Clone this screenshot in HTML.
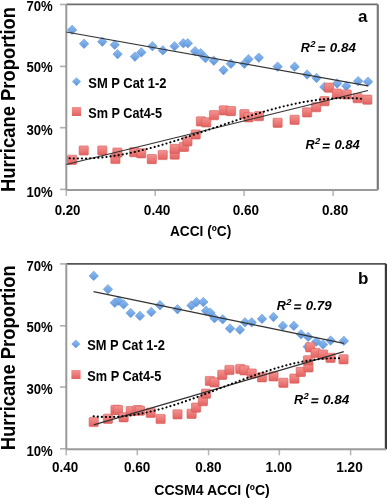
<!DOCTYPE html>
<html><head><meta charset="utf-8"><style>
html,body{margin:0;padding:0;background:#fff;}
svg{display:block;}
text{font-family:"Liberation Sans", sans-serif;font-weight:bold;fill:#000;}
.dm{fill:url(#gb);stroke:#5a8ed4;stroke-width:0.5;}
.sq{fill:url(#gr);stroke:#d65a58;stroke-width:0.6;}
</style></head><body>
<svg width="387" height="500" viewBox="0 0 387 500">
<defs>
<linearGradient id="gb" x1="0" y1="0" x2="0" y2="1"><stop offset="0" stop-color="#8cbcf0"/><stop offset="0.5" stop-color="#78aae6"/><stop offset="1" stop-color="#5e92d8"/></linearGradient>
<linearGradient id="gr" x1="0" y1="0" x2="0" y2="1"><stop offset="0" stop-color="#f29492"/><stop offset="0.5" stop-color="#ec7a78"/><stop offset="1" stop-color="#e06260"/></linearGradient>
<filter id="txt" x="-2%" y="-2%" width="104%" height="104%"><feGaussianBlur stdDeviation="0.12"/></filter>
<filter id="ln" x="-5%" y="-20%" width="110%" height="140%"><feGaussianBlur stdDeviation="0.25"/></filter>
<filter id="soft" x="-5%" y="-5%" width="110%" height="110%"><feGaussianBlur stdDeviation="0.35"/></filter>
</defs>
<rect width="387" height="500" fill="#fff"/>
<line x1="66.3" y1="4.4" x2="377.8" y2="4.4" stroke="#6e6e6e" stroke-width="1.8"/>
<line x1="377.8" y1="4.4" x2="377.8" y2="189.9" stroke="#7a7a7a" stroke-width="2.2"/>
<line x1="60" y1="4.5" x2="66.3" y2="4.5" stroke="#b0b0b0" stroke-width="1.6"/>
<line x1="60" y1="66.4" x2="66.3" y2="66.4" stroke="#b0b0b0" stroke-width="1.6"/>
<line x1="60" y1="127.7" x2="66.3" y2="127.7" stroke="#b0b0b0" stroke-width="1.6"/>
<line x1="60" y1="189.4" x2="66.3" y2="189.4" stroke="#b0b0b0" stroke-width="1.6"/>
<line x1="66.3" y1="189.9" x2="66.3" y2="195.9" stroke="#b8b8b8" stroke-width="1.6"/>
<line x1="155.2" y1="189.9" x2="155.2" y2="195.9" stroke="#b8b8b8" stroke-width="1.6"/>
<line x1="244.1" y1="189.9" x2="244.1" y2="195.9" stroke="#b8b8b8" stroke-width="1.6"/>
<line x1="333.1" y1="189.9" x2="333.1" y2="195.9" stroke="#b8b8b8" stroke-width="1.6"/>
<line x1="66.3" y1="4.4" x2="66.3" y2="189.9" stroke="#9a9a9a" stroke-width="2"/>
<line x1="66.3" y1="189.9" x2="377.8" y2="189.9" stroke="#9a9a9a" stroke-width="2"/>
<g filter="url(#soft)">
<path class="dm" d="M72.1,25.1 L76.8,29.9 L72.1,34.6 L67.3,29.9Z"/>
<path class="dm" d="M84.1,39.0 L88.8,43.8 L84.1,48.5 L79.3,43.8Z"/>
<path class="dm" d="M102.3,36.9 L107.0,41.7 L102.3,46.4 L97.5,41.7Z"/>
<path class="dm" d="M114.7,40.0 L119.5,44.8 L114.7,49.5 L110.0,44.8Z"/>
<path class="dm" d="M117.6,49.4 L122.3,54.1 L117.6,58.9 L112.8,54.1Z"/>
<path class="dm" d="M134.9,51.9 L139.7,56.6 L134.9,61.4 L130.2,56.6Z"/>
<path class="dm" d="M141.3,47.6 L146.1,52.4 L141.3,57.1 L136.6,52.4Z"/>
<path class="dm" d="M152.4,41.4 L157.2,46.2 L152.4,50.9 L147.7,46.2Z"/>
<path class="dm" d="M162.8,45.6 L167.6,50.4 L162.8,55.1 L158.1,50.4Z"/>
<path class="dm" d="M174.5,41.4 L179.2,46.2 L174.5,50.9 L169.8,46.2Z"/>
<path class="dm" d="M183.3,38.5 L188.1,43.3 L183.3,48.0 L178.6,43.3Z"/>
<path class="dm" d="M187.8,38.5 L192.6,43.3 L187.8,48.0 L183.1,43.3Z"/>
<path class="dm" d="M195.1,46.4 L199.8,51.2 L195.1,55.9 L190.3,51.2Z"/>
<path class="dm" d="M200.7,48.4 L205.4,53.2 L200.7,57.9 L195.9,53.2Z"/>
<path class="dm" d="M205.4,53.2 L210.2,58.0 L205.4,62.8 L200.7,58.0Z"/>
<path class="dm" d="M213.8,55.9 L218.6,60.7 L213.8,65.4 L209.1,60.7Z"/>
<path class="dm" d="M223.5,65.4 L228.2,70.1 L223.5,74.9 L218.8,70.1Z"/>
<path class="dm" d="M230.9,59.0 L235.7,63.8 L230.9,68.5 L226.2,63.8Z"/>
<path class="dm" d="M244.3,59.0 L249.1,63.8 L244.3,68.5 L239.6,63.8Z"/>
<path class="dm" d="M248.5,54.4 L253.2,59.2 L248.5,63.9 L243.8,59.2Z"/>
<path class="dm" d="M258.8,52.9 L263.6,57.6 L258.8,62.4 L254.1,57.6Z"/>
<path class="dm" d="M277.6,61.9 L282.4,66.6 L277.6,71.4 L272.9,66.6Z"/>
<path class="dm" d="M294.6,62.0 L299.4,66.7 L294.6,71.5 L289.9,66.7Z"/>
<path class="dm" d="M307.1,69.8 L311.9,74.5 L307.1,79.2 L302.4,74.5Z"/>
<path class="dm" d="M316.5,73.2 L321.2,78.0 L316.5,82.8 L311.8,78.0Z"/>
<path class="dm" d="M324.3,82.2 L329.1,86.9 L324.3,91.7 L319.6,86.9Z"/>
<path class="dm" d="M337.2,78.7 L341.9,83.4 L337.2,88.2 L332.4,83.4Z"/>
<path class="dm" d="M346.3,81.4 L351.1,86.1 L346.3,90.9 L341.6,86.1Z"/>
<path class="dm" d="M358.2,76.4 L362.9,81.1 L358.2,85.9 L353.4,81.1Z"/>
<path class="dm" d="M368.0,77.0 L372.8,81.7 L368.0,86.5 L363.2,81.7Z"/>
<rect class="sq" x="67.5" y="155.2" width="9.2" height="9.2" rx="0.8"/>
<rect class="sq" x="79.1" y="145.9" width="9.2" height="9.2" rx="0.8"/>
<rect class="sq" x="97.7" y="145.9" width="9.2" height="9.2" rx="0.8"/>
<rect class="sq" x="110.8" y="154.4" width="9.2" height="9.2" rx="0.8"/>
<rect class="sq" x="112.8" y="148.0" width="9.2" height="9.2" rx="0.8"/>
<rect class="sq" x="129.6" y="147.6" width="9.2" height="9.2" rx="0.8"/>
<rect class="sq" x="136.6" y="148.7" width="9.2" height="9.2" rx="0.8"/>
<rect class="sq" x="147.2" y="154.5" width="9.2" height="9.2" rx="0.8"/>
<rect class="sq" x="158.1" y="150.4" width="9.2" height="9.2" rx="0.8"/>
<rect class="sq" x="170.1" y="150.0" width="9.2" height="9.2" rx="0.8"/>
<rect class="sq" x="170.1" y="144.3" width="9.2" height="9.2" rx="0.8"/>
<rect class="sq" x="179.4" y="142.3" width="9.2" height="9.2" rx="0.8"/>
<rect class="sq" x="182.8" y="136.8" width="9.2" height="9.2" rx="0.8"/>
<rect class="sq" x="191.1" y="129.9" width="9.2" height="9.2" rx="0.8"/>
<rect class="sq" x="196.3" y="116.8" width="9.2" height="9.2" rx="0.8"/>
<rect class="sq" x="201.6" y="117.8" width="9.2" height="9.2" rx="0.8"/>
<rect class="sq" x="209.4" y="110.6" width="9.2" height="9.2" rx="0.8"/>
<rect class="sq" x="219.2" y="105.8" width="9.2" height="9.2" rx="0.8"/>
<rect class="sq" x="226.4" y="106.5" width="9.2" height="9.2" rx="0.8"/>
<rect class="sq" x="239.8" y="109.6" width="9.2" height="9.2" rx="0.8"/>
<rect class="sq" x="244.0" y="112.7" width="9.2" height="9.2" rx="0.8"/>
<rect class="sq" x="254.3" y="111.6" width="9.2" height="9.2" rx="0.8"/>
<rect class="sq" x="273.0" y="118.2" width="9.2" height="9.2" rx="0.8"/>
<rect class="sq" x="290.0" y="115.2" width="9.2" height="9.2" rx="0.8"/>
<rect class="sq" x="302.5" y="107.8" width="9.2" height="9.2" rx="0.8"/>
<rect class="sq" x="311.6" y="102.6" width="9.2" height="9.2" rx="0.8"/>
<rect class="sq" x="319.9" y="96.6" width="9.2" height="9.2" rx="0.8"/>
<rect class="sq" x="324.5" y="83.1" width="9.2" height="9.2" rx="0.8"/>
<rect class="sq" x="332.3" y="89.0" width="9.2" height="9.2" rx="0.8"/>
<rect class="sq" x="342.1" y="89.9" width="9.2" height="9.2" rx="0.8"/>
<rect class="sq" x="353.0" y="93.6" width="9.2" height="9.2" rx="0.8"/>
<rect class="sq" x="362.7" y="95.1" width="9.2" height="9.2" rx="0.8"/>
</g>
<g filter="url(#ln)">
<line x1="66.3" y1="32.0" x2="368" y2="85.9" stroke="#333" stroke-width="1.25"/>
<line x1="66.3" y1="164.5" x2="368" y2="90.5" stroke="#333" stroke-width="1.25"/>
<path d="M66.30,158.11 L71.35,158.41 L76.39,158.58 L81.44,158.60 L86.48,158.50 L91.53,158.28 L96.57,157.93 L101.62,157.47 L106.67,156.90 L111.71,156.22 L116.76,155.45 L121.80,154.57 L126.85,153.61 L131.89,152.57 L136.94,151.44 L141.99,150.24 L147.03,148.97 L152.08,147.64 L157.12,146.24 L162.17,144.79 L167.22,143.29 L172.26,141.74 L177.31,140.16 L182.35,138.54 L187.40,136.89 L192.44,135.21 L197.49,133.52 L202.54,131.80 L207.58,130.08 L212.63,128.36 L217.67,126.63 L222.72,124.91 L227.76,123.20 L232.81,121.50 L237.86,119.83 L242.90,118.17 L247.95,116.55 L252.99,114.96 L258.04,113.42 L263.08,111.92 L268.13,110.46 L273.18,109.06 L278.22,107.73 L283.27,106.45 L288.31,105.25 L293.36,104.12 L298.41,103.07 L303.45,102.11 L308.50,101.23 L313.54,100.45 L318.59,99.77 L323.63,99.20 L328.68,98.73 L333.73,98.38 L338.77,98.15 L343.82,98.04 L348.86,98.06 L353.91,98.22 L358.95,98.52 L364.00,98.96" fill="none" stroke="#000" stroke-width="2.05" stroke-linecap="round" stroke-dasharray="0.2 3.9" stroke-dashoffset="0.8"/>
</g>
<path d="M76.5,77.3 L81.0,81.6 L76.5,85.89999999999999 L72.0,81.6Z" fill="url(#gb)"/>
<rect x="71.9" y="106.9" width="9.2" height="9.2" fill="url(#gr)" rx="0.6"/>
<line x1="66.3" y1="263.79999999999995" x2="385.9" y2="263.79999999999995" stroke="#555555" stroke-width="1.8"/>
<line x1="385.9" y1="263.79999999999995" x2="385.9" y2="449.29999999999995" stroke="#3a3a3a" stroke-width="2.2"/>
<line x1="60" y1="263.9" x2="66.3" y2="263.9" stroke="#b0b0b0" stroke-width="1.6"/>
<line x1="60" y1="325.79999999999995" x2="66.3" y2="325.79999999999995" stroke="#b0b0b0" stroke-width="1.6"/>
<line x1="60" y1="387.09999999999997" x2="66.3" y2="387.09999999999997" stroke="#b0b0b0" stroke-width="1.6"/>
<line x1="60" y1="448.79999999999995" x2="66.3" y2="448.79999999999995" stroke="#b0b0b0" stroke-width="1.6"/>
<line x1="66.2" y1="449.29999999999995" x2="66.2" y2="455.29999999999995" stroke="#b8b8b8" stroke-width="1.6"/>
<line x1="137.3" y1="449.29999999999995" x2="137.3" y2="455.29999999999995" stroke="#b8b8b8" stroke-width="1.6"/>
<line x1="208.6" y1="449.29999999999995" x2="208.6" y2="455.29999999999995" stroke="#b8b8b8" stroke-width="1.6"/>
<line x1="279.3" y1="449.29999999999995" x2="279.3" y2="455.29999999999995" stroke="#b8b8b8" stroke-width="1.6"/>
<line x1="350.6" y1="449.29999999999995" x2="350.6" y2="455.29999999999995" stroke="#b8b8b8" stroke-width="1.6"/>
<line x1="66.3" y1="263.79999999999995" x2="66.3" y2="449.29999999999995" stroke="#9a9a9a" stroke-width="2"/>
<line x1="66.3" y1="449.29999999999995" x2="385.9" y2="449.29999999999995" stroke="#9a9a9a" stroke-width="2"/>
<g filter="url(#soft)">
<path class="dm" d="M93.7,271.1 L98.5,275.9 L93.7,280.6 L89.0,275.9Z"/>
<path class="dm" d="M107.9,284.5 L112.7,289.3 L107.9,294.0 L103.2,289.3Z"/>
<path class="dm" d="M114.8,298.0 L119.5,302.8 L114.8,307.5 L110.0,302.8Z"/>
<path class="dm" d="M118.5,295.9 L123.2,300.7 L118.5,305.4 L113.8,300.7Z"/>
<path class="dm" d="M123.6,299.6 L128.3,304.4 L123.6,309.1 L118.8,304.4Z"/>
<path class="dm" d="M130.7,308.3 L135.4,313.1 L130.7,317.8 L125.9,313.1Z"/>
<path class="dm" d="M139.9,311.1 L144.7,315.9 L139.9,320.6 L135.2,315.9Z"/>
<path class="dm" d="M151.3,307.2 L156.1,312.0 L151.3,316.8 L146.6,312.0Z"/>
<path class="dm" d="M160.0,300.4 L164.8,305.2 L160.0,309.9 L155.2,305.2Z"/>
<path class="dm" d="M177.5,304.5 L182.2,309.3 L177.5,314.0 L172.8,309.3Z"/>
<path class="dm" d="M191.4,300.8 L196.2,305.6 L191.4,310.3 L186.7,305.6Z"/>
<path class="dm" d="M196.5,297.3 L201.2,302.1 L196.5,306.8 L191.8,302.1Z"/>
<path class="dm" d="M203.3,297.3 L208.1,302.1 L203.3,306.8 L198.6,302.1Z"/>
<path class="dm" d="M206.1,306.0 L210.8,310.8 L206.1,315.5 L201.3,310.8Z"/>
<path class="dm" d="M210.3,307.9 L215.1,312.7 L210.3,317.4 L205.6,312.7Z"/>
<path class="dm" d="M214.5,313.5 L219.2,318.3 L214.5,323.0 L209.8,318.3Z"/>
<path class="dm" d="M222.7,314.5 L227.4,319.3 L222.7,324.0 L217.9,319.3Z"/>
<path class="dm" d="M230.0,323.8 L234.8,328.6 L230.0,333.3 L225.2,328.6Z"/>
<path class="dm" d="M239.9,324.9 L244.7,329.7 L239.9,334.4 L235.2,329.7Z"/>
<path class="dm" d="M245.0,317.6 L249.8,322.4 L245.0,327.1 L240.2,322.4Z"/>
<path class="dm" d="M251.7,317.6 L256.4,322.4 L251.7,327.1 L246.9,322.4Z"/>
<path class="dm" d="M262.0,314.1 L266.8,318.9 L262.0,323.6 L257.2,318.9Z"/>
<path class="dm" d="M273.5,312.2 L278.2,317.0 L273.5,321.8 L268.8,317.0Z"/>
<path class="dm" d="M282.8,321.1 L287.6,325.9 L282.8,330.6 L278.1,325.9Z"/>
<path class="dm" d="M293.8,321.1 L298.6,325.9 L293.8,330.6 L289.1,325.9Z"/>
<path class="dm" d="M301.0,329.6 L305.8,334.4 L301.0,339.1 L296.2,334.4Z"/>
<path class="dm" d="M308.2,332.1 L312.9,336.9 L308.2,341.6 L303.4,336.9Z"/>
<path class="dm" d="M307.6,341.9 L312.4,346.7 L307.6,351.4 L302.9,346.7Z"/>
<path class="dm" d="M316.4,336.8 L321.1,341.6 L316.4,346.3 L311.6,341.6Z"/>
<path class="dm" d="M323.0,339.8 L327.8,344.6 L323.0,349.3 L318.2,344.6Z"/>
<path class="dm" d="M330.6,335.8 L335.4,340.5 L330.6,345.2 L325.9,340.5Z"/>
<path class="dm" d="M343.9,336.1 L348.6,340.9 L343.9,345.6 L339.1,340.9Z"/>
<rect class="sq" x="89.1" y="417.4" width="9.2" height="9.2" rx="0.8"/>
<rect class="sq" x="103.3" y="414.2" width="9.2" height="9.2" rx="0.8"/>
<rect class="sq" x="110.9" y="405.3" width="9.2" height="9.2" rx="0.8"/>
<rect class="sq" x="113.4" y="405.3" width="9.2" height="9.2" rx="0.8"/>
<rect class="sq" x="119.0" y="412.7" width="9.2" height="9.2" rx="0.8"/>
<rect class="sq" x="126.1" y="406.5" width="9.2" height="9.2" rx="0.8"/>
<rect class="sq" x="132.9" y="405.6" width="9.2" height="9.2" rx="0.8"/>
<rect class="sq" x="135.3" y="406.1" width="9.2" height="9.2" rx="0.8"/>
<rect class="sq" x="146.1" y="408.2" width="9.2" height="9.2" rx="0.8"/>
<rect class="sq" x="156.0" y="414.4" width="9.2" height="9.2" rx="0.8"/>
<rect class="sq" x="172.9" y="409.8" width="9.2" height="9.2" rx="0.8"/>
<rect class="sq" x="187.0" y="409.2" width="9.2" height="9.2" rx="0.8"/>
<rect class="sq" x="191.5" y="403.0" width="9.2" height="9.2" rx="0.8"/>
<rect class="sq" x="198.3" y="396.6" width="9.2" height="9.2" rx="0.8"/>
<rect class="sq" x="201.4" y="389.1" width="9.2" height="9.2" rx="0.8"/>
<rect class="sq" x="205.3" y="376.4" width="9.2" height="9.2" rx="0.8"/>
<rect class="sq" x="209.9" y="377.8" width="9.2" height="9.2" rx="0.8"/>
<rect class="sq" x="217.7" y="370.2" width="9.2" height="9.2" rx="0.8"/>
<rect class="sq" x="224.9" y="365.4" width="9.2" height="9.2" rx="0.8"/>
<rect class="sq" x="235.7" y="364.4" width="9.2" height="9.2" rx="0.8"/>
<rect class="sq" x="239.8" y="365.8" width="9.2" height="9.2" rx="0.8"/>
<rect class="sq" x="247.1" y="368.9" width="9.2" height="9.2" rx="0.8"/>
<rect class="sq" x="257.4" y="372.7" width="9.2" height="9.2" rx="0.8"/>
<rect class="sq" x="268.9" y="371.8" width="9.2" height="9.2" rx="0.8"/>
<rect class="sq" x="278.8" y="378.2" width="9.2" height="9.2" rx="0.8"/>
<rect class="sq" x="289.8" y="374.0" width="9.2" height="9.2" rx="0.8"/>
<rect class="sq" x="296.2" y="367.3" width="9.2" height="9.2" rx="0.8"/>
<rect class="sq" x="303.8" y="362.8" width="9.2" height="9.2" rx="0.8"/>
<rect class="sq" x="303.4" y="355.7" width="9.2" height="9.2" rx="0.8"/>
<rect class="sq" x="305.6" y="342.7" width="9.2" height="9.2" rx="0.8"/>
<rect class="sq" x="311.0" y="348.4" width="9.2" height="9.2" rx="0.8"/>
<rect class="sq" x="318.4" y="350.0" width="9.2" height="9.2" rx="0.8"/>
<rect class="sq" x="325.9" y="353.2" width="9.2" height="9.2" rx="0.8"/>
<rect class="sq" x="338.9" y="354.7" width="9.2" height="9.2" rx="0.8"/>
</g>
<g filter="url(#ln)">
<line x1="93.5" y1="291.6" x2="343.8" y2="343.4" stroke="#333" stroke-width="1.25"/>
<line x1="93.7" y1="424.8" x2="343.8" y2="351.7" stroke="#333" stroke-width="1.25"/>
<path d="M93.10,416.22 L97.30,416.61 L101.50,416.86 L105.71,416.99 L109.91,416.99 L114.11,416.88 L118.31,416.65 L122.51,416.31 L126.71,415.87 L130.92,415.33 L135.12,414.70 L139.32,413.97 L143.52,413.15 L147.72,412.26 L151.92,411.28 L156.13,410.23 L160.33,409.12 L164.53,407.93 L168.73,406.69 L172.93,405.39 L177.13,404.04 L181.34,402.64 L185.54,401.20 L189.74,399.72 L193.94,398.21 L198.14,396.67 L202.34,395.10 L206.55,393.51 L210.75,391.91 L214.95,390.29 L219.15,388.67 L223.35,387.04 L227.55,385.42 L231.76,383.80 L235.96,382.19 L240.16,380.60 L244.36,379.02 L248.56,377.47 L252.76,375.95 L256.97,374.46 L261.17,373.01 L265.37,371.59 L269.57,370.23 L273.77,368.91 L277.97,367.65 L282.18,366.45 L286.38,365.31 L290.58,364.23 L294.78,363.23 L298.98,362.31 L303.18,361.47 L307.39,360.71 L311.59,360.04 L315.79,359.47 L319.99,359.00 L324.19,358.62 L328.39,358.36 L332.60,358.21 L336.80,358.17 L341.00,358.26" fill="none" stroke="#000" stroke-width="2.05" stroke-linecap="round" stroke-dasharray="0.2 3.9" stroke-dashoffset="-0.5"/>
</g>
<path d="M75.8,339.59999999999997 L80.3,343.9 L75.8,348.2 L71.3,343.9Z" fill="url(#gb)"/>
<rect x="71.4" y="369.9" width="9.2" height="9.2" fill="url(#gr)" rx="0.6"/>
<g filter="url(#txt)">
<text x="26.5" y="11.0" font-size="14.3" text-anchor="start" textLength="26.3" lengthAdjust="spacingAndGlyphs" >70%</text>
<text x="26.5" y="72.4" font-size="14.3" text-anchor="start" textLength="26.3" lengthAdjust="spacingAndGlyphs" >50%</text>
<text x="26.5" y="135.2" font-size="14.3" text-anchor="start" textLength="26.3" lengthAdjust="spacingAndGlyphs" >30%</text>
<text x="26.5" y="196.6" font-size="14.3" text-anchor="start" textLength="26.3" lengthAdjust="spacingAndGlyphs" >10%</text>
<text x="54.7" y="214.5" font-size="14.3" text-anchor="start" textLength="25.8" lengthAdjust="spacingAndGlyphs" >0.20</text>
<text x="143.8" y="215.0" font-size="14.3" text-anchor="start" textLength="26.6" lengthAdjust="spacingAndGlyphs" >0.40</text>
<text x="232.8" y="215.0" font-size="14.3" text-anchor="start" textLength="26.3" lengthAdjust="spacingAndGlyphs" >0.60</text>
<text x="322.0" y="215.0" font-size="14.3" text-anchor="start" textLength="26.3" lengthAdjust="spacingAndGlyphs" >0.80</text>
<text x="300.8" y="51.5" font-size="12.6" font-style="italic">R</text>
<text x="310.3" y="47.1" font-size="9.4" font-style="italic">2</text>
<path d="M318.6,46.2 h6.8 l-0.25,1.5 h-6.8z M318.1,49.7 h6.8 l-0.25,1.5 h-6.8z" fill="#000"/>
<text x="329.8" y="51.5" font-size="12.8" font-style="italic" textLength="26.1" lengthAdjust="spacingAndGlyphs">0.84</text>
<text x="305.40000000000003" y="148.7" font-size="12.6" font-style="italic">R</text>
<text x="314.90000000000003" y="144.29999999999998" font-size="9.4" font-style="italic">2</text>
<path d="M323.2,143.4 h6.8 l-0.25,1.5 h-6.8z M322.7,146.9 h6.8 l-0.25,1.5 h-6.8z" fill="#000"/>
<text x="334.40000000000003" y="148.7" font-size="12.8" font-style="italic" textLength="25.4" lengthAdjust="spacingAndGlyphs">0.84</text>
<text x="357.9" y="21.7" font-size="17" text-anchor="start" >a</text>
<text x="88.3" y="87.7" font-size="14.2" text-anchor="start" textLength="78.2" lengthAdjust="spacingAndGlyphs" >SM P Cat 1-2</text>
<text x="88.3" y="118.0" font-size="14.2" text-anchor="start" textLength="73.8" lengthAdjust="spacingAndGlyphs" >Sm P Cat4-5</text>
<text x="169.9" y="236.1" font-size="14.5" text-anchor="start" textLength="61.4" lengthAdjust="spacingAndGlyphs" >ACCI (ºC)</text>
<text transform="translate(15.2,192) rotate(-90)" x="0" y="0" font-size="19.5" textLength="185" lengthAdjust="spacingAndGlyphs">Hurricane Proportion</text>
<text x="26.5" y="270.5" font-size="14.3" text-anchor="start" textLength="26.3" lengthAdjust="spacingAndGlyphs" >70%</text>
<text x="26.5" y="332.2" font-size="14.3" text-anchor="start" textLength="26.3" lengthAdjust="spacingAndGlyphs" >50%</text>
<text x="26.5" y="394.4" font-size="14.3" text-anchor="start" textLength="26.3" lengthAdjust="spacingAndGlyphs" >30%</text>
<text x="26.5" y="456.1" font-size="14.3" text-anchor="start" textLength="26.3" lengthAdjust="spacingAndGlyphs" >10%</text>
<text x="52.1" y="472.0" font-size="14.3" text-anchor="start" textLength="26.2" lengthAdjust="spacingAndGlyphs" >0.40</text>
<text x="124.0" y="472.0" font-size="14.3" text-anchor="start" textLength="26.3" lengthAdjust="spacingAndGlyphs" >0.60</text>
<text x="195.3" y="472.0" font-size="14.3" text-anchor="start" textLength="26.3" lengthAdjust="spacingAndGlyphs" >0.80</text>
<text x="265.6" y="472.4" font-size="14.3" text-anchor="start" textLength="26.4" lengthAdjust="spacingAndGlyphs" >1.00</text>
<text x="336.2" y="472.4" font-size="14.3" text-anchor="start" textLength="26.6" lengthAdjust="spacingAndGlyphs" >1.20</text>
<text x="276.8" y="309.6" font-size="12.6" font-style="italic">R</text>
<text x="286.3" y="305.20000000000005" font-size="9.4" font-style="italic">2</text>
<path d="M294.6,304.3 h6.8 l-0.25,1.5 h-6.8z M294.1,307.8 h6.8 l-0.25,1.5 h-6.8z" fill="#000"/>
<text x="305.8" y="309.6" font-size="12.8" font-style="italic" textLength="25.799999999999997" lengthAdjust="spacingAndGlyphs">0.79</text>
<text x="294.0" y="403.6" font-size="12.6" font-style="italic">R</text>
<text x="303.5" y="399.20000000000005" font-size="9.4" font-style="italic">2</text>
<path d="M311.8,398.3 h6.8 l-0.25,1.5 h-6.8z M311.3,401.8 h6.8 l-0.25,1.5 h-6.8z" fill="#000"/>
<text x="323.0" y="403.6" font-size="12.8" font-style="italic" textLength="26.4" lengthAdjust="spacingAndGlyphs">0.84</text>
<text x="358.1" y="284.4" font-size="17" text-anchor="start" >b</text>
<text x="87.2" y="350.1" font-size="14.2" text-anchor="start" textLength="77.7" lengthAdjust="spacingAndGlyphs" >SM P Cat 1-2</text>
<text x="87.3" y="381.0" font-size="14.2" text-anchor="start" textLength="74.1" lengthAdjust="spacingAndGlyphs" >Sm P Cat4-5</text>
<text x="154.3" y="495.3" font-size="14.5" text-anchor="start" textLength="115.5" lengthAdjust="spacingAndGlyphs" >CCSM4 ACCI (ºC)</text>
<text transform="translate(15.2,450.2) rotate(-90)" x="0" y="0" font-size="19.5" textLength="185" lengthAdjust="spacingAndGlyphs">Hurricane Proportion</text>
</g>
</svg>
</body></html>
